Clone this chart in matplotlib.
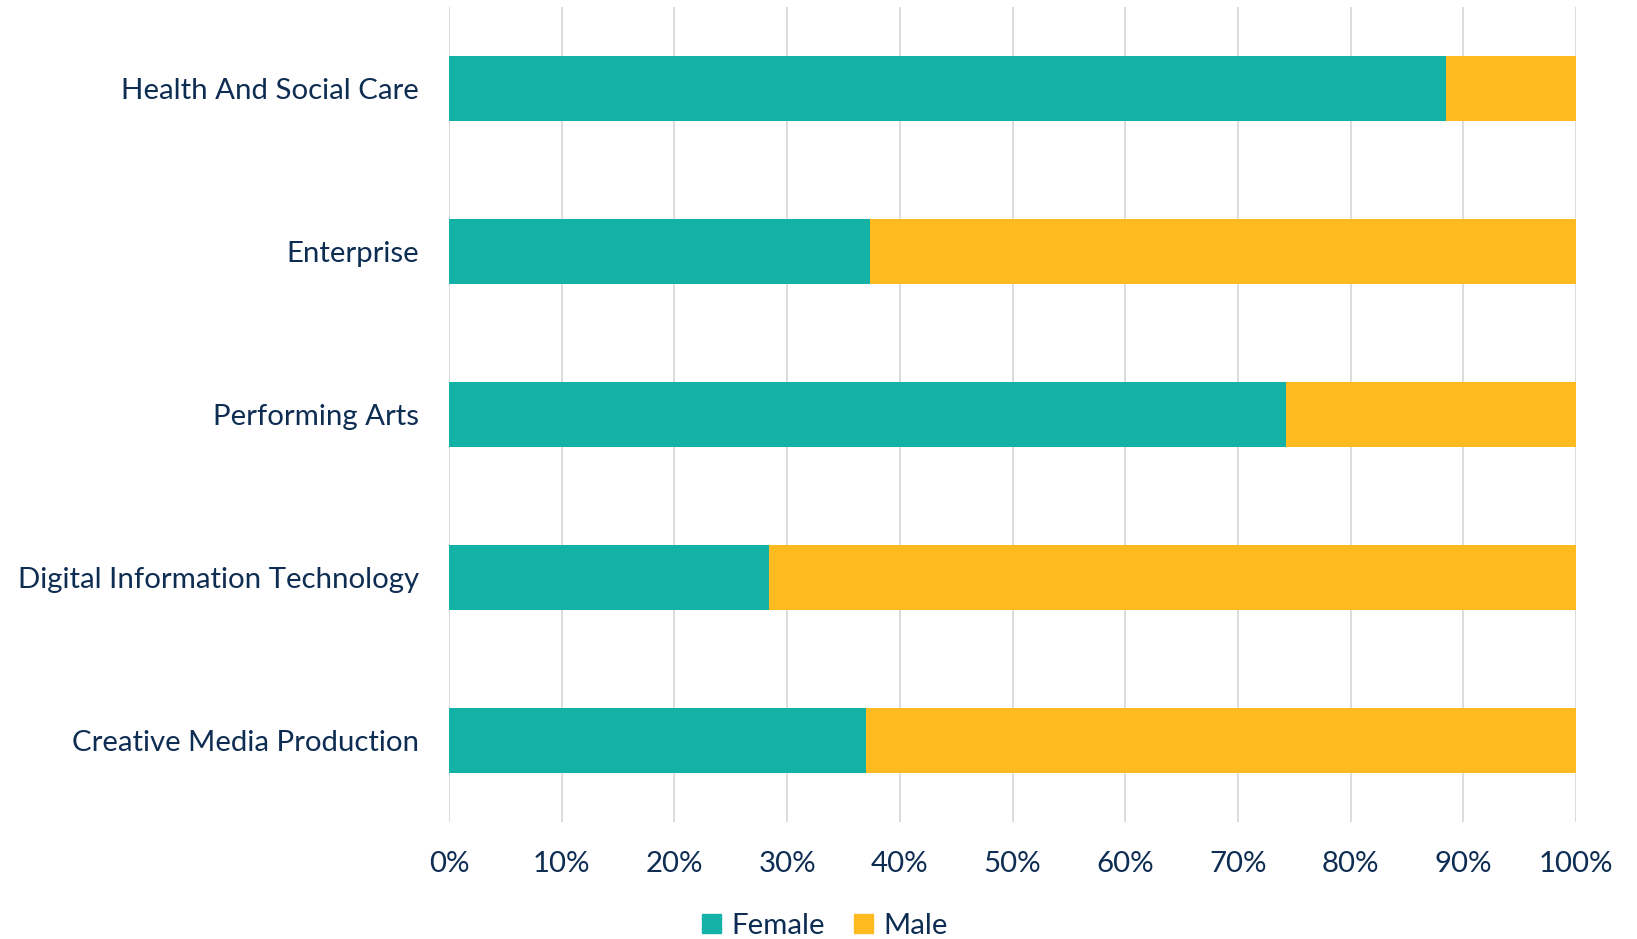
import matplotlib
matplotlib.use("Agg")
import matplotlib.pyplot as plt
from matplotlib.patches import Patch

categories = ["Health And Social Care", "Enterprise", "Performing Arts",
              "Digital Information Technology", "Creative Media Production"]
female = [88.5, 37.4, 74.3, 28.4, 37.0]
male = [11.5, 62.6, 25.7, 71.6, 63.0]
xticks = [0, 10, 20, 30, 40, 50, 60, 70, 80, 90, 100]
xtick_labels = [f"{t}%" for t in xticks]

TEAL = "#14B1A7"
GOLD = "#FFBA1F"
TEXT = "#0E2D52"
GRID = "#D9D9D9"

plt.rcParams["font.family"] = ["Lato", "DejaVu Sans"]

W, H = 1637, 939
fig = plt.figure(figsize=(W / 100, H / 100), dpi=100)
ax = fig.add_axes([449 / W, 1 - 822 / H, (1576 - 449) / W, (822 - 7) / H])

y = list(range(len(categories)))
ax.barh(y, female, height=0.4, color=TEAL, label="Female", zorder=3)
ax.barh(y, male, left=female, height=0.4, color=GOLD, label="Male", zorder=3)

ax.set_xlim(0, 100)
ax.set_ylim(len(categories) - 0.5, -0.5)
ax.set_yticks(y)
ax.set_yticklabels(categories, fontsize=21.2, color=TEXT)
ax.set_xticks(xticks)
ax.set_xticklabels(xtick_labels, fontsize=21.2, color=TEXT)
ax.tick_params(axis="y", length=0, pad=21.5)
ax.tick_params(axis="x", length=0, pad=21)
ax.grid(axis="x", color=GRID, linewidth=1.3, zorder=0)
for s in ax.spines.values():
    s.set_visible(False)

handles = [Patch(color=TEAL, label="Female"), Patch(color=GOLD, label="Male")]
fig.legend(handles=handles, loc="center", bbox_to_anchor=(825 / W, 1 - 926 / H),
           ncol=2, frameon=False, fontsize=21.2, labelcolor=TEXT,
           handlelength=0.65, handleheight=0.65, handletextpad=0.35, columnspacing=1.0)

fig.savefig("out.png", dpi=100)
